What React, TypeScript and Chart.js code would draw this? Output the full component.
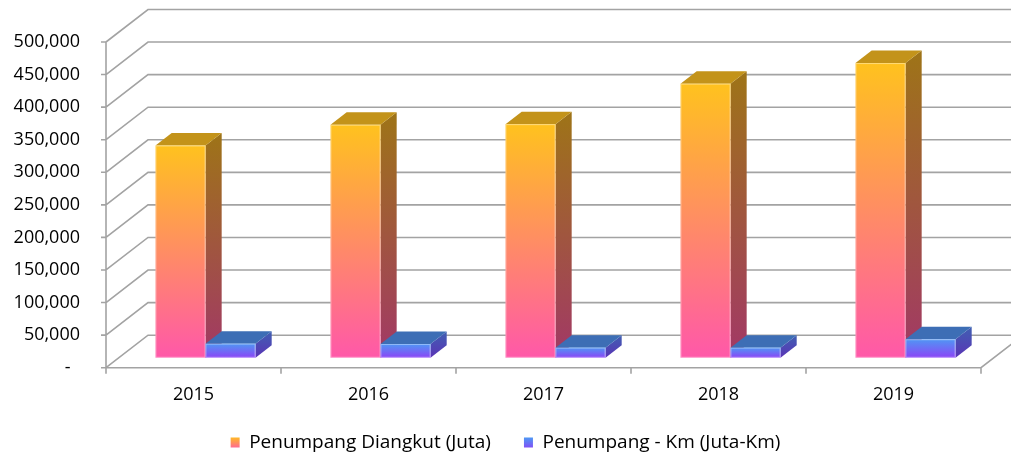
import React, { useEffect, useRef } from 'react';
import { Chart, registerables } from 'chart.js';

Chart.register(...registerables);

// ---- data ----
const categories = ['2015', '2016', '2017', '2018', '2019'];
const penumpangDiangkut = [325700, 357500, 358500, 420600, 452300];
const penumpangKm = [21500, 21000, 15400, 15400, 28300];
const seriesLabels = ['Penumpang Diangkut (Juta)', 'Penumpang - Km (Juta-Km)'];
const yMin = 0;
const yMax = 500000;
const yStep = 50000;

// ---- styling / 3D geometry ----
const FONT = "'Open Sans', sans-serif";
const DEPTH_X = 42;
const DEPTH_Y = -32.5;
const BAR_SHIFT_X = 12;
const BAR_SHIFT_Y = -10;
const BAR_DEPTH = 0.385;
const GRID_COLOR = '#A3A3A3';

const palettes = [
  { front: ['#FFC21E', '#FF58A9'], side: ['#9E7417', '#A23866'], top: '#C3931A', legend: ['#FFB52A', '#FF5FA2'] },
  { front: ['#5096F4', '#8B45F6'], side: ['#4060B2', '#5A34B6'], top: '#3D6EB5', legend: ['#4F95F4', '#8746F6'] },
];

const formatTick = (v: number) => (v === 0 ? '-  ' : v.toLocaleString('en-US'));

const threeD = {
  id: 'threeD',
  beforeDatasetsDraw(chart: any) {
    const { ctx, chartArea, scales } = chart;
    const { left, right, top } = chartArea;
    const y = scales.y;
    const x = scales.x;
    const y0 = y.getPixelForValue(0);
    ctx.save();
    ctx.strokeStyle = GRID_COLOR;
    ctx.lineWidth = 1.6;
    ctx.beginPath();
    y.ticks.forEach((t: any) => {
      const py = y.getPixelForValue(t.value);
      ctx.moveTo(left, py);
      ctx.lineTo(left + DEPTH_X, py + DEPTH_Y);
      ctx.lineTo(right + DEPTH_X, py + DEPTH_Y);
      ctx.moveTo(left - 5, py);
      ctx.lineTo(left, py);
    });
    ctx.moveTo(left, top);
    ctx.lineTo(left, y0);
    ctx.moveTo(left, y0);
    ctx.lineTo(right, y0);
    ctx.lineTo(right + DEPTH_X, y0 + DEPTH_Y);
    const n = x.ticks.length;
    const step = (right - left) / n;
    for (let i = 0; i <= n; i++) {
      ctx.moveTo(left + i * step, y0);
      ctx.lineTo(left + i * step, y0 + 6);
    }
    ctx.stroke();
    ctx.restore();
  },
  beforeDatasetDraw() {
    return false;
  },
  afterDatasetsDraw(chart: any) {
    const { ctx } = chart;
    const metas = chart.data.datasets.map((_: any, i: number) => chart.getDatasetMeta(i));
    const ox = BAR_SHIFT_X;
    const oy = BAR_SHIFT_Y;
    const dx = DEPTH_X * BAR_DEPTH;
    const dy = DEPTH_Y * BAR_DEPTH;
    ctx.save();
    for (let j = 0; j < categories.length; j++) {
      metas.forEach((meta: any, di: number) => {
        const el = meta.data[j];
        if (!el) return;
        const p = el.getProps(['x', 'y', 'base', 'width'], true);
        const pal = palettes[di];
        const x0 = p.x - p.width / 2 + ox;
        const x1 = p.x + p.width / 2 + ox;
        const yT = p.y + oy;
        const yB = p.base + oy;
        // side face
        const gs = ctx.createLinearGradient(0, yT + dy, 0, yB);
        gs.addColorStop(0, pal.side[0]);
        gs.addColorStop(1, pal.side[1]);
        ctx.fillStyle = gs;
        ctx.beginPath();
        ctx.moveTo(x1, yT);
        ctx.lineTo(x1 + dx, yT + dy);
        ctx.lineTo(x1 + dx, yB + dy);
        ctx.lineTo(x1, yB);
        ctx.closePath();
        ctx.fill();
        // top face
        ctx.fillStyle = pal.top;
        ctx.beginPath();
        ctx.moveTo(x0, yT);
        ctx.lineTo(x0 + dx, yT + dy);
        ctx.lineTo(x1 + dx, yT + dy);
        ctx.lineTo(x1, yT);
        ctx.closePath();
        ctx.fill();
        // front face
        const gf = ctx.createLinearGradient(0, yT, 0, yB);
        gf.addColorStop(0, pal.front[0]);
        gf.addColorStop(1, pal.front[1]);
        ctx.fillStyle = gf;
        ctx.fillRect(x0, yT, x1 - x0, yB - yT);
        ctx.strokeStyle = 'rgba(255,255,255,0.35)';
        ctx.lineWidth = 1;
        ctx.strokeRect(x0 + 0.5, yT + 0.5, x1 - x0 - 1, yB - yT - 1);
      });
    }
    ctx.restore();
  },
};

export default function App() {
  const ref = useRef<HTMLCanvasElement | null>(null);

  useEffect(() => {
    if (!ref.current) return;
    const chart = new Chart(ref.current, {
      type: 'bar',
      data: {
        labels: categories,
        datasets: [
          { label: seriesLabels[0], data: penumpangDiangkut, backgroundColor: palettes[0].front[0] },
          { label: seriesLabels[1], data: penumpangKm, backgroundColor: palettes[1].front[0] },
        ],
      },
      options: {
        responsive: false,
        animation: false,
        events: [],
        layout: { padding: { top: 42, right: 0, left: 0, bottom: -4 } },
        datasets: { bar: { categoryPercentage: 100 / 175, barPercentage: 1 } },
        scales: {
          x: {
            grid: { display: false, drawTicks: false },
            border: { display: false },
            ticks: { font: { family: FONT, size: 18 }, color: '#000', padding: 16, maxRotation: 0 },
            afterFit: (s: any) => {
              s.height = 32.3;
            },
          },
          y: {
            min: yMin,
            max: yMax,
            grid: { display: false, drawTicks: false },
            border: { display: false },
            ticks: {
              stepSize: yStep,
              font: { family: FONT, size: 18 },
              color: '#000',
              padding: 26,
              callback: (v: any) => formatTick(Number(v)),
            },
            afterFit: (s: any) => {
              s.width = 106;
            },
          },
          yRight: {
            position: 'right',
            min: yMin,
            max: yMax,
            grid: { display: false, drawTicks: false },
            border: { display: false },
            ticks: { display: false },
            afterFit: (s: any) => {
              s.width = 30;
            },
          },
        },
        plugins: {
          tooltip: { enabled: false },
          legend: {
            position: 'bottom',
            labels: {
              font: { family: FONT, size: 19 },
              color: '#000',
              boxWidth: 9,
              boxHeight: 10,
              padding: 33,
              generateLabels: (c: any) =>
                c.data.datasets.map((ds: any, i: number) => {
                  const g = c.ctx.createLinearGradient(0, 438, 0, 449);
                  g.addColorStop(0, palettes[i].legend[0]);
                  g.addColorStop(1, palettes[i].legend[1]);
                  return {
                    text: ds.label,
                    fillStyle: g,
                    strokeStyle: 'rgba(0,0,0,0)',
                    lineWidth: 0,
                    hidden: false,
                    datasetIndex: i,
                    fontColor: '#000',
                  };
                }),
            },
          },
        },
      },
      plugins: [threeD],
    } as any);
    return () => chart.destroy();
  }, []);

  return (
    <div style={{ position: 'absolute', left: 0, top: 0, width: 1011, height: 458, background: '#fff' }}>
      <canvas ref={ref} width={1011} height={458} style={{ display: 'block' }} />
    </div>
  );
}
